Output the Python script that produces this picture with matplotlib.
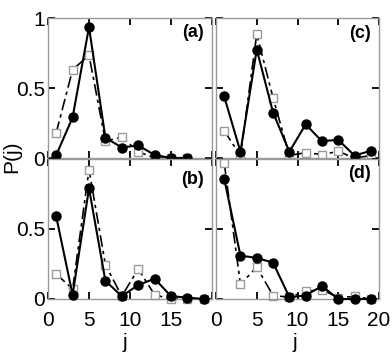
import matplotlib.pyplot as plt

plt.rcParams['font.family'] = ['Liberation Sans', 'DejaVu Sans']

# j values (odd sites)
j_a = [1, 3, 5, 7, 9, 11, 13, 15, 17]
j_full = [1, 3, 5, 7, 9, 11, 13, 15, 17, 19]

# panel (a)
a_circ = [0.02, 0.29, 0.935, 0.145, 0.075, 0.09, 0.022, 0.0, 0.0]
a_sq = [0.18, 0.63, 0.735, 0.12, 0.15, 0.045, 0.0, 0.0, 0.0]
# panel (b)
b_circ = [0.59, 0.03, 0.79, 0.13, 0.02, 0.10, 0.145, 0.02, 0.01, 0.0]
b_sq = [0.18, 0.07, 0.925, 0.245, 0.02, 0.215, 0.03, 0.0, 0.0, 0.0]
# panel (c)
c_circ = [0.44, 0.045, 0.775, 0.325, 0.045, 0.24, 0.12, 0.13, 0.017, 0.052]
c_sq = [0.195, 0.016, 0.885, 0.43, 0.018, 0.038, 0.025, 0.047, 0.0, 0.017]
# panel (d)
d_circ = [0.86, 0.31, 0.293, 0.26, 0.013, 0.025, 0.093, 0.0, 0.0, 0.0]
d_sq = [0.975, 0.104, 0.228, 0.025, 0.013, 0.055, 0.067, 0.01, 0.018, 0.0]

panels = [
    ("(a)", j_a, a_circ, a_sq, [48, 18, 164, 140], 0.893),
    ("(b)", j_full, b_circ, b_sq, [48, 159, 164, 140], 0.857),
    ("(c)", j_full, c_circ, c_sq, [216, 18, 163, 140], 0.886),
    ("(d)", j_full, d_circ, d_sq, [216, 159, 163, 140], 0.893),
]

W, H = 392, 357
fig = plt.figure(figsize=(W / 100, H / 100), dpi=100)

for label, j, circ, sq, (x0, y0, w, h), ty in panels:
    ax = fig.add_axes([x0 / W, 1 - (y0 + h) / H, w / W, h / H])
    ax.plot(j, sq, color='black', lw=1.2, dashes=(7, 2.5, 2, 2.5),
            marker='s', ms=6, mfc='white', mec='#9a9a9a', mew=1.0, clip_on=False, zorder=2)
    ax.plot(j, circ, color='black', lw=1.5, marker='o', ms=6.5,
            mfc='black', mec='black', clip_on=False, zorder=3)
    ax.set_xlim(0, 20)
    ax.set_ylim(0, 1)
    ax.set_xticks([0, 5, 10, 15, 20])
    ax.set_yticks([0, 0.5, 1])
    ax.tick_params(direction='in', length=5, width=1.3, top=True, right=True,
                   labelsize=15, color='black')
    ax.tick_params(axis='x', pad=9)
    ax.tick_params(axis='y', pad=2)
    for s in ax.spines.values():
        s.set_color('#999999')
        s.set_linewidth(1.0)
    ax.text(0.95, ty, label, transform=ax.transAxes, ha='right', va='center',
            fontsize=13, fontweight='bold')

    if label == "(a)":
        ax.set_xticklabels([])
        ax.set_yticklabels(["0", "0.5", "1"])
    elif label == "(b)":
        ax.set_xticklabels(["0", "5", "10", "15", ""])
        ax.set_yticklabels(["0", "0.5", ""])
    elif label == "(c)":
        ax.set_xticklabels([])
        ax.set_yticklabels([])
    else:
        ax.set_xticklabels(["0", "5", "10", "15", "20"])
        ax.set_yticklabels([])

fig.text(12 / W, 1 - 157 / H, "P(j)", rotation=90, ha='center', va='center', fontsize=15)
fig.text(125 / W, 1 - 342 / H, "j", ha='center', va='center', fontsize=15)
fig.text(295 / W, 1 - 342 / H, "j", ha='center', va='center', fontsize=15)

fig.savefig("out.png", dpi=100)
